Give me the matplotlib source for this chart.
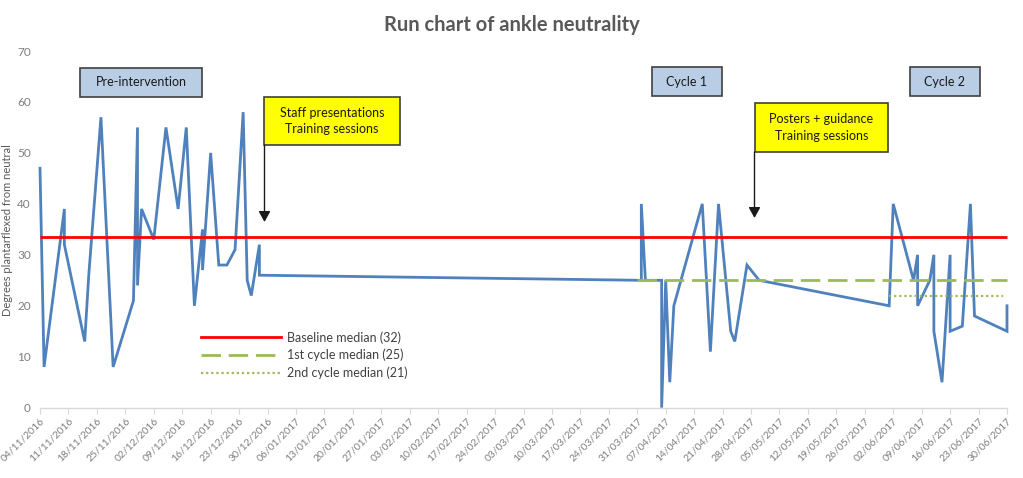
import matplotlib
matplotlib.use("Agg")
import matplotlib.pyplot as plt
from matplotlib.patches import Rectangle, FancyArrowPatch
from matplotlib.lines import Line2D
import datetime as dt

plt.rcParams['font.family'] = ['Lato', 'DejaVu Sans']

# ---------------- data ----------------
obs_dates = [
    "2016-11-04", "2016-11-05", "2016-11-10", "2016-11-10", "2016-11-15",
    "2016-11-16", "2016-11-19", "2016-11-22", "2016-11-27", "2016-11-28",
    "2016-11-28", "2016-11-29", "2016-12-02", "2016-12-05", "2016-12-08",
    "2016-12-10", "2016-12-12", "2016-12-14", "2016-12-14", "2016-12-16",
    "2016-12-18", "2016-12-20", "2016-12-22", "2016-12-24", "2016-12-25",
    "2016-12-26", "2016-12-28", "2016-12-28",
    "2017-04-01", "2017-04-01", "2017-04-02", "2017-04-06", "2017-04-06",
    "2017-04-07", "2017-04-08", "2017-04-09", "2017-04-16", "2017-04-18",
    "2017-04-20", "2017-04-23", "2017-04-24", "2017-04-27", "2017-04-30",
    "2017-06-01", "2017-06-02", "2017-06-07", "2017-06-08", "2017-06-08",
    "2017-06-11", "2017-06-12", "2017-06-12", "2017-06-14", "2017-06-16",
    "2017-06-16", "2017-06-19", "2017-06-21", "2017-06-22", "2017-06-30",
    "2017-06-30",
]
obs_values = [
    47, 8, 39, 32, 13,
    26, 57, 8, 21, 55,
    24, 39, 33, 55, 39,
    55, 20, 35, 27, 50,
    28, 28, 31, 58, 25,
    22, 32, 26,
    25, 40, 25, 25, 0,
    25, 5, 20, 40, 11,
    40, 15, 13, 28, 25,
    20, 40, 25, 30, 20,
    25, 30, 15, 5, 30,
    15, 16, 40, 18, 15,
    20,
]

baseline_label = "Baseline median (32)"
baseline_level = 33.5
baseline_span = ["2016-11-04", "2017-06-30"]

cycle1_label = "1st cycle median (25)"
cycle1_level = 25
cycle1_span = ["2017-03-31", "2017-06-30"]

cycle2_label = "2nd cycle median (21)"
cycle2_level = 22
cycle2_span = ["2017-06-01", "2017-06-29"]

axis_start = "2016-11-04"
axis_end = "2017-06-30"
y_ticks = [0, 10, 20, 30, 40, 50, 60, 70]

title = "Run chart of ankle neutrality"
ylabel = "Degrees plantarflexed from neutral"

# --------------- figure ---------------
W, H = 1023, 478
fig = plt.figure(figsize=(W / 100, H / 100), dpi=100)

def fx(px):
    return px / W

def fy(py):
    return 1 - py / H

ax_left, ax_right, ax_top, ax_bottom = 40, 1007, 51, 407.7
ax = fig.add_axes([fx(ax_left), fy(ax_bottom), fx(ax_right - ax_left), (ax_bottom - ax_top) / H])

to_dt = lambda s: dt.datetime.strptime(s, "%Y-%m-%d")
xd = [to_dt(s) for s in obs_dates]

blue = "#4F81BD"
red = "#FF0000"
green = "#9BBB59"
gray_txt = "#7F7F7F"

ax.plot(xd, obs_values, color=blue, lw=2.0, zorder=2, clip_on=False,
        solid_joinstyle='miter')
ax.plot([to_dt(s) for s in baseline_span], [baseline_level] * 2, color=red, lw=2.0,
        solid_capstyle='butt', zorder=3, clip_on=False)
ax.plot([to_dt(s) for s in cycle1_span], [cycle1_level] * 2, color=green, lw=2.0,
        dashes=(7, 2.8), zorder=3, clip_on=False)
ax.plot([to_dt(s) for s in cycle2_span], [cycle2_level] * 2, color=green, lw=1.6,
        dashes=(1, 1.3), zorder=3, clip_on=False)

ax.set_xlim(to_dt(axis_start), to_dt(axis_end))
ax.set_ylim(0, 70)

ticks = []
t = to_dt(axis_start)
while t <= to_dt(axis_end):
    ticks.append(t)
    t += dt.timedelta(days=7)
ax.set_xticks(ticks)
ax.set_xticklabels([d.strftime("%d/%m/%Y") for d in ticks], rotation=45,
                   ha='right', rotation_mode='anchor', fontsize=7.5, color=gray_txt)
ax.tick_params(axis='x', length=4, color="#D9D9D9", pad=2)
ax.set_yticks(y_ticks)
ax.set_yticklabels([str(v) for v in y_ticks], fontsize=8.5, color=gray_txt)
ax.tick_params(axis='y', length=0, pad=6.5)

for s in ['top', 'right', 'left']:
    ax.spines[s].set_visible(False)
ax.spines['bottom'].set_color("#D9D9D9")
ax.spines['bottom'].set_linewidth(1.0)

fig.text(fx(8), fy(230), ylabel, rotation=90, ha='center', va='center',
         fontsize=8, color="#595959")

fig.text(0.5, fy(25), title, ha='center', va='center', fontsize=14.5,
         fontweight='bold', color="#595959")

# legend
handles = [
    Line2D([], [], color=red, lw=2.0),
    Line2D([], [], color=green, lw=2.0, dashes=(7, 2.8)),
    Line2D([], [], color=green, lw=1.6, dashes=(1, 1.3)),
]
leg = ax.legend(handles, [baseline_label, cycle1_label, cycle2_label],
                loc='upper left',
                bbox_to_anchor=((196 - ax_left) / (ax_right - ax_left),
                                (ax_bottom - 326) / (ax_bottom - ax_top)),
                frameon=False, fontsize=9, handlelength=6.4, handletextpad=0.45,
                labelspacing=0.42, borderaxespad=0, labelcolor="#404040")

# annotation boxes (pixel coordinates)
def box(x0, y0, x1, y1, text, fc):
    r = Rectangle((fx(x0), fy(y1)), fx(x1 - x0), (y1 - y0) / H, transform=fig.transFigure,
                  facecolor=fc, edgecolor="#404040", lw=1.2, zorder=5)
    fig.add_artist(r)
    fig.text(fx((x0 + x1) / 2), fy((y0 + y1) / 2), text, ha='center', va='center',
             fontsize=9, color="#1a1a1a", linespacing=1.45, zorder=6)

box(80, 68, 202, 97, "Pre-intervention", "#B9CDE5")
box(652, 67, 722, 96, "Cycle 1", "#B9CDE5")
box(910, 67, 980, 96, "Cycle 2", "#B9CDE5")
box(264, 97, 400, 145, "Staff presentations\nTraining sessions", "#FFFF00")
box(755, 103, 888, 152, "Posters + guidance\nTraining sessions", "#FFFF00")

# arrows
for xa, ys, ye in [(264.5, 145, 222), (754.5, 152, 218)]:
    fig.add_artist(FancyArrowPatch(
        (fx(xa), fy(ys)), (fx(xa), fy(ye)), transform=fig.transFigure,
        arrowstyle='-|>,head_length=4,head_width=2.2', mutation_scale=1.6,
        color="#1a1a1a", lw=1.0, shrinkA=0, shrinkB=0, zorder=5))

fig.savefig("out.png", dpi=100)
